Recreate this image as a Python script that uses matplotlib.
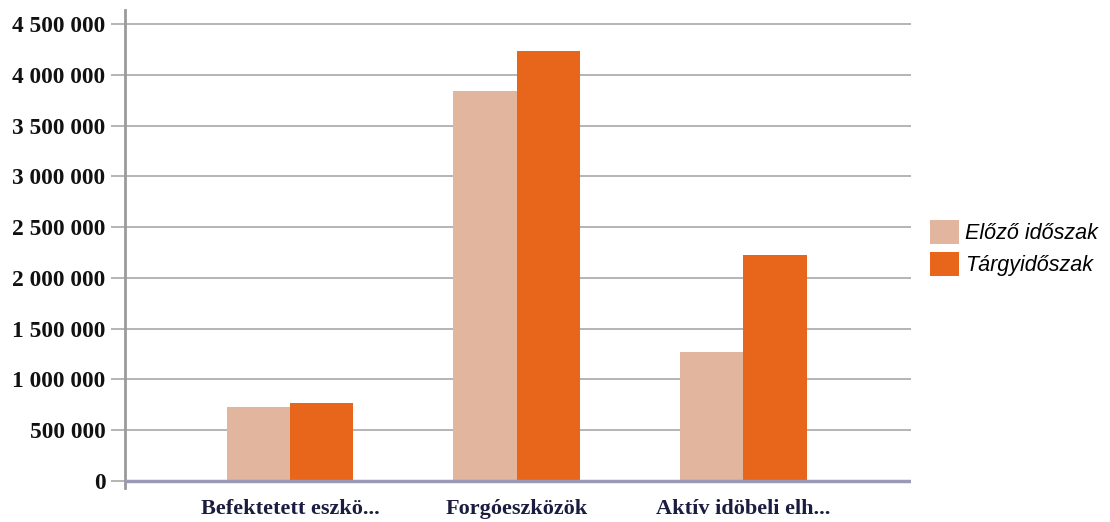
import matplotlib.pyplot as plt
import numpy as np
from matplotlib.ticker import FuncFormatter

categories = ["Befektetett eszkö...", "Forgóeszközök", "Aktív idöbeli elh..."]
previous = [730000, 3840000, 1270000]
current = [765000, 4240000, 2225000]
series_names = ["Előző időszak", "Tárgyidőszak"]

light = "#e2b59e"
dark = "#e8651c"

fig = plt.figure(figsize=(11.1, 5.22), dpi=100)
ax = fig.add_axes([0.1126, 0.065, 0.708, 0.916])

x = np.arange(len(categories))
w = 0.28
b1 = ax.bar(x - w / 2, previous, w, color=light, zorder=3, label=series_names[0])
b2 = ax.bar(x + w / 2, current, w, color=dark, zorder=3, label=series_names[1])

ax.set_xlim(-0.728, 2.74)
ax.set_ylim(-70000, 4640000)
ax.set_yticks(np.arange(0, 4500001, 500000))
ax.yaxis.set_major_formatter(FuncFormatter(lambda v, p: f"{int(v):,}".replace(",", " ")))
ax.grid(axis="y", color="#a8a8a8", linewidth=1.2, zorder=0)
ax.axhline(0, color="#9a9ab8", linewidth=2.5, zorder=4)

for s in ["top", "right", "bottom"]:
    ax.spines[s].set_visible(False)
ax.spines["left"].set_color("#9a9a9a")
ax.spines["left"].set_linewidth(2)

ax.tick_params(axis="y", length=10, width=1.2, color="#a8a8a8", pad=4)
ax.tick_params(axis="x", length=0, pad=8)
ax.set_xticks(x)
ax.set_xticklabels(categories, fontfamily="Liberation Serif", fontweight="bold",
                   fontsize=16, color="#1c1c40")
for lbl in ax.get_yticklabels():
    lbl.set_fontfamily("Liberation Serif")
    lbl.set_fontweight("bold")
    lbl.set_fontsize(16.8)
    lbl.set_color("#111111")

leg = fig.legend(handles=[b1, b2], labels=series_names, loc="center left",
                 bbox_to_anchor=(0.82, 0.525), frameon=False,
                 prop={"family": "Liberation Sans", "style": "italic", "size": 15.5},
                 handlelength=1.35, handleheight=1.35, handletextpad=0.3, labelspacing=0.35)

fig.savefig("out.png", dpi=100)
